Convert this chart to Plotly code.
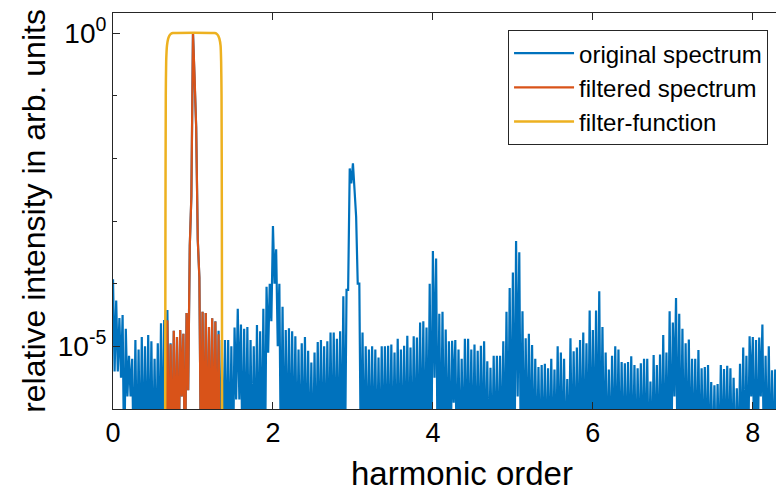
import numpy as np
import plotly.graph_objects as go

# ---- data (log10 of relative intensity) ----
X_STEP = 0.02  # spectral sampling in harmonic orders
# local maxima at x = 0.00, 0.04, 0.08, ...
PEAK_LOG = [
    -3.93, -4.27, -4.55, -4.50, -4.72, -5.15, -5.20, -4.90, -5.05, -4.85,
    -5.00, -4.82, -4.92, -5.20, -4.95, -4.63, -4.58, -4.42, -4.95, -4.75,
    -4.85, -4.74, -4.80, -4.47, -3.40, 0.00, -1.50, -3.90, -4.45, -4.47,
    -4.69, -4.55, -4.60, -4.75, -4.90, -4.90, -4.90, -5.00, -4.70, -4.40,
    -4.65, -4.72, -4.69, -4.90, -5.00, -4.66, -4.76, -4.40, -4.05, -4.00,
    -3.08, -3.45, -4.00, -4.37, -4.74, -4.71, -4.76, -4.84, -5.05, -4.95,
    -4.85, -5.07, -5.26, -5.10, -4.93, -4.90, -5.00, -4.92, -4.78, -4.78,
    -4.88, -4.76, -4.20, -4.10, -2.16, -2.08, -2.93, -4.00, -4.78, -5.00,
    -5.05, -5.00, -5.05, -5.18, -5.00, -5.00, -4.99, -4.97, -5.10, -4.88,
    -5.05, -4.99, -4.83, -5.02, -4.84, -4.86, -4.62, -4.60, -4.70, -4.00,
    -3.48, -3.60, -4.48, -4.45, -4.73, -4.92, -4.91, -4.90, -5.05, -5.20,
    -4.88, -4.88, -5.05, -4.97, -5.07, -4.99, -4.92, -5.24, -5.34, -5.15,
    -5.15, -5.15, -4.92, -4.45, -4.07, -3.82, -3.32, -3.50, -4.44, -4.87,
    -4.80, -4.98, -5.20, -5.33, -5.30, -5.28, -5.35, -5.20, -5.37, -5.00,
    -5.10, -5.20, -5.52, -4.87, -5.08, -5.02, -4.90, -4.78, -4.95, -4.43,
    -4.74, -4.43, -4.12, -4.69, -5.10, -5.37, -5.15, -5.00, -5.05, -5.25,
    -5.27, -5.25, -5.16, -5.30, -5.35, -5.27, -5.20, -5.20, -5.56, -5.14,
    -5.30, -5.13, -4.82, -5.10, -4.44, -4.62, -4.23, -4.48, -4.72, -4.95,
    -4.89, -5.20, -5.20, -5.06, -5.35, -5.33, -5.30, -5.57, -5.62, -5.60,
    -5.30, -5.36, -5.31, -5.35, -5.50, -5.67, -5.28, -5.02, -5.15, -4.84,
    -4.85, -4.90, -4.86, -4.65, -5.15, -5.00, -5.38, -5.37,
]
# local minima at x = 0.02, 0.06, 0.10, ...
TROUGH_LOG = [
    -5.4, -5.4, -5.5, -7, -5.8, -5.8, -7, -7, -7, -7,
    -7, -7, -7, -7, -7, -7, -7, -7, -7, -7,
    -7, -5.8, -7, -5.7, -2.6, -0.7, -3.3, -7, -7, -7,
    -7, -7, -7, -7, -7, -7, -7, -7, -5.85, -5.85,
    -7, -7, -7, -7, -7, -7, -7, -7, -5.1, -4.6,
    -4.0, -5.0, -7, -7, -7, -7, -7, -7, -7, -7,
    -7, -7, -7, -7, -7, -7, -7, -7, -7, -7,
    -7, -7, -7, -4.1, -2.4, -2.5, -4.0, -7, -7, -7,
    -7, -7, -7, -7, -7, -7, -7, -7, -7, -7,
    -7, -7, -7, -7, -7, -7, -7, -7, -7, -7,
    -5.5, -7, -7, -7, -7, -7, -5.9, -7, -7, -7,
    -7, -7, -7, -7, -7, -7, -7, -7, -7, -7,
    -7, -7, -7, -7, -7, -7, -5.8, -7, -7, -7,
    -7, -7, -7, -7, -7, -7, -7, -7, -7, -7,
    -7, -7, -7, -7, -7, -7, -7, -7, -7, -7,
    -7, -7, -7, -7, -7, -7, -7, -7, -7, -7,
    -7, -7, -7, -7, -7, -7, -7, -7, -7, -7,
    -7, -7, -7, -7, -7, -5.8, -7, -7, -7, -7,
    -7, -7, -7, -7, -7, -7, -7, -7, -7, -7,
    -7, -7, -7, -7, -7, -7, -7, -7, -7, -5.8,
    -7, -7, -5.8, -7, -7, -7, -7, -7,
]
# super-Gaussian band-pass filter (log10 of transmission)
FILTER_X = [0.650, 0.656, 0.660, 0.665, 0.675, 0.690, 0.705, 0.725, 0.750,
            1.270, 1.295, 1.315, 1.330, 1.345, 1.352, 1.357, 1.361, 1.366]
FILTER_LOG = [-8.0, -3.0, -1.0, -0.45, -0.20, -0.09, -0.04, -0.01, 0.0,
              0.0, -0.01, -0.04, -0.09, -0.20, -0.45, -1.0, -3.0, -8.0]
BAND = (0.66, 1.361)

X_TICKS = [0, 2, 4, 6, 8]
Y_TICKS = [1e-5, 1.0]
Y_TICK_TEXT = ["10<sup>-5</sup>", "10<sup>0</sup>"]
Y_MINOR = [1e-4, 1e-3, 1e-2, 1e-1]

# ---- build series ----
n = len(PEAK_LOG)
logs = np.empty(2 * n)
logs[0::2] = PEAK_LOG
logs[1::2] = TROUGH_LOG
x = np.arange(2 * n) * X_STEP
original = 10.0 ** logs

mask = (x >= BAND[0]) & (x <= BAND[1])
xf = x[mask]
filtered = 10.0 ** (logs[mask] + np.interp(xf, FILTER_X, FILTER_LOG))

fx = np.array(FILTER_X)
fy = 10.0 ** np.array(FILTER_LOG)

BLUE = "#0072BD"
ORANGE = "#D95319"
YELLOW = "#EDB120"
FONT = "Liberation Sans, Arial, Helvetica, sans-serif"

fig = go.Figure()
fig.add_trace(go.Scatter(x=x, y=original, mode="lines", name="original spectrum",
                         line=dict(color=BLUE, width=2.2)))
fig.add_trace(go.Scatter(x=xf, y=filtered, mode="lines", name="filtered spectrum",
                         line=dict(color=ORANGE, width=2.2)))
fig.add_trace(go.Scatter(x=fx, y=fy, mode="lines", name="filter-function",
                         line=dict(color=YELLOW, width=2.5, shape="spline", smoothing=0.6)))

axis_color = "#262626"
fig.update_layout(
    width=776, height=494,
    margin=dict(l=113, r=0, t=13, b=85),
    paper_bgcolor="white", plot_bgcolor="white",
    font=dict(family=FONT, color="#000000", size=24),
    showlegend=True,
    legend=dict(x=0.988, y=0.957, xanchor="right", yanchor="top",
                bgcolor="white", bordercolor=axis_color, borderwidth=1,
                font=dict(size=24, family=FONT), itemwidth=60,
                tracegroupgap=0),
    xaxis=dict(range=[0, 8.29], tickvals=X_TICKS,
               ticks="inside", ticklen=7, tickcolor=axis_color,
               showline=True, linecolor=axis_color, linewidth=1, mirror="ticks",
               showgrid=False, zeroline=False,
               tickfont=dict(size=27, family=FONT)),
    yaxis=dict(type="log", range=[-6.0, 0.32],
               tickmode="array", tickvals=Y_TICKS, ticktext=Y_TICK_TEXT,
               ticks="inside", ticklen=7, tickcolor=axis_color,
               minor=dict(tickmode="array", tickvals=Y_MINOR,
                          ticks="inside", ticklen=4, tickcolor=axis_color),
               showline=True, linecolor=axis_color, linewidth=1,
               showgrid=False, zeroline=False,
               tickfont=dict(size=28, family=FONT),
               title=dict(text="relative intensity in arb. units",
                          font=dict(size=32, family=FONT), standoff=2)),
    annotations=[dict(text="harmonic order", xref="paper", yref="paper",
                      x=0.526, y=-0.162, xanchor="center", yanchor="middle",
                      showarrow=False, font=dict(size=33, family=FONT))],
)

fig.write_html("out.html")
